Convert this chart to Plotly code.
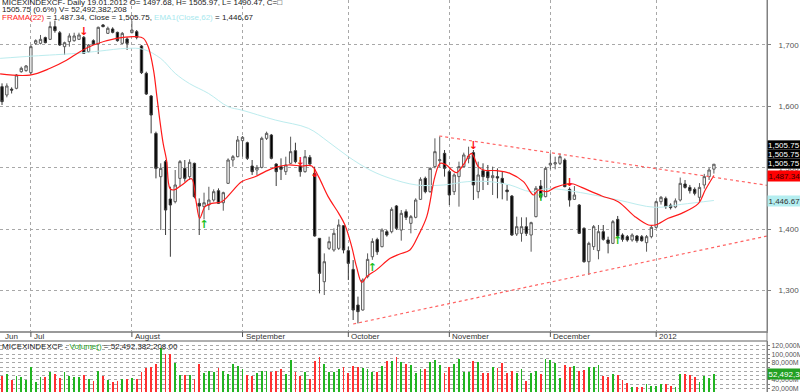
import plotly.graph_objects as go

# ---------------- data ----------------
month_labels = ["Jul", "August", "September", "October", "November", "December", "2012"]
month_idx = [6, 27, 50, 72, 93, 114, 136]

opens = [1632.1, 1618.5, 1628.0, 1629.4, 1656.5, 1658.2, 1654.9, 1702.7, 1702.7, 1712.0,
         1709.2, 1729.9, 1720.0, 1697.3, 1705.4, 1707.0, 1709.2, 1712.5, 1689.1, 1707.0,
         1701.6, 1732.6, 1719.0, 1726.1, 1720.6, 1702.7, 1709.8, 1720.1, 1721.7, 1698.4,
         1653.8, 1616.9, 1556.0, 1485.4, 1509.9, 1449.0, 1444.7, 1482.7, 1499.0, 1485.4,
         1507.2, 1442.0, 1436.6, 1439.3, 1447.4, 1462.6, 1443.0, 1474.6, 1512.6, 1518.0,
         1544.1, 1540.8, 1502.8, 1496.3, 1500.6, 1547.9, 1553.3, 1506.1, 1501.7, 1493.6,
         1507.2, 1527.8, 1502.8, 1493.6, 1517.0, 1490.9, 1385.0, 1314.3, 1368.7, 1366.0,
         1368.7, 1405.6, 1364.9, 1334.4, 1276.3, 1268.2, 1322.5, 1355.0, 1383.0, 1371.4,
         1395.8, 1395.8, 1437.7, 1398.5, 1428.4, 1409.4, 1419.2, 1448.5, 1482.7, 1461.0,
         1501.8, 1511.5, 1523.5, 1493.6, 1461.0, 1485.5, 1501.8, 1515.3, 1524.6, 1461.0,
         1495.2, 1493.6, 1483.8, 1485.5, 1482.7, 1463.7, 1453.9, 1392.0, 1393.1, 1404.0,
         1390.4, 1420.3, 1470.2, 1452.9, 1504.5, 1506.1, 1507.2, 1512.6, 1464.8, 1448.5,
         1439.3, 1401.3, 1346.9, 1371.4, 1364.9, 1395.8, 1382.3, 1376.8, 1415.9, 1390.4,
         1387.7, 1382.3, 1388.8, 1387.7, 1377.9, 1387.7, 1402.9, 1444.7, 1450.0, 1439.0,
         1436.0, 1447.4, 1473.5, 1468.0, 1464.8, 1451.8, 1471.9, 1485.5, 1497.68]
highs = [1637.5, 1637.5, 1631.0, 1652.7, 1664.7, 1667.4, 1700.0, 1709.2, 1716.3, 1713.6,
         1738.0, 1739.7, 1722.8, 1705.4, 1719.0, 1720.0, 1720.0, 1714.7, 1701.6, 1709.2,
         1729.9, 1734.2, 1729.9, 1728.8, 1721.7, 1721.2, 1712.5, 1739.7, 1724.4, 1700.0,
         1656.5, 1618.5, 1558.8, 1507.2, 1512.6, 1469.1, 1496.3, 1512.6, 1512.6, 1513.7,
         1508.3, 1450.1, 1459.4, 1469.0, 1464.8, 1466.4, 1461.0, 1515.3, 1520.8, 1551.7,
         1551.7, 1542.5, 1512.6, 1504.5, 1550.6, 1558.8, 1555.0, 1507.2, 1515.3, 1518.0,
         1550.6, 1540.8, 1512.6, 1528.9, 1520.8, 1501.7, 1385.0, 1360.5, 1387.7, 1401.2,
         1415.9, 1406.7, 1371.4, 1349.6, 1290.0, 1319.8, 1360.5, 1385.0, 1386.0, 1401.3,
         1398.5, 1435.5, 1439.3, 1431.1, 1432.2, 1423.0, 1450.2, 1484.4, 1485.5, 1500.7,
         1547.9, 1551.0, 1528.9, 1496.3, 1490.9, 1509.9, 1524.6, 1534.3, 1528.9, 1509.9,
         1507.2, 1504.5, 1501.8, 1499.0, 1493.6, 1471.9, 1455.6, 1420.3, 1419.2, 1419.2,
         1412.1, 1470.2, 1480.0, 1501.8, 1523.5, 1518.0, 1523.5, 1515.3, 1468.1, 1470.2,
         1440.9, 1402.9, 1379.5, 1406.7, 1406.7, 1406.7, 1387.7, 1414.8, 1421.4, 1393.1,
         1390.4, 1393.1, 1390.4, 1390.4, 1390.4, 1406.7, 1446.3, 1454.0, 1453.0, 1442.0,
         1450.0, 1484.0, 1480.0, 1472.0, 1468.0, 1475.0, 1490.0, 1500.0, 1505.97]
lows = [1602.2, 1614.7, 1621.0, 1627.8, 1654.9, 1656.5, 1652.7, 1700.0, 1701.0, 1702.7,
        1708.1, 1720.0, 1698.4, 1683.7, 1697.3, 1705.4, 1708.1, 1685.3, 1687.5, 1700.0,
        1685.3, 1728.8, 1717.9, 1719.0, 1705.4, 1701.6, 1691.9, 1719.0, 1709.2, 1652.7,
        1618.5, 1556.0, 1482.7, 1398.5, 1390.4, 1355.0, 1441.9, 1469.2, 1477.3, 1480.0,
        1450.1, 1390.4, 1415.9, 1431.0, 1444.7, 1440.9, 1430.0, 1473.5, 1501.7, 1517.0,
        1518.0, 1512.6, 1488.2, 1488.2, 1499.0, 1545.2, 1513.7, 1470.2, 1480.0, 1488.2,
        1506.1, 1507.2, 1485.4, 1492.0, 1502.8, 1387.7, 1295.3, 1292.6, 1366.0, 1363.2,
        1366.0, 1360.5, 1317.0, 1251.9, 1246.4, 1267.1, 1319.8, 1350.0, 1358.0, 1370.3,
        1387.7, 1393.1, 1398.5, 1381.2, 1414.8, 1393.1, 1417.6, 1447.4, 1458.3, 1459.4,
        1499.0, 1501.0, 1485.5, 1439.3, 1455.6, 1436.6, 1500.7, 1507.2, 1447.5, 1450.2,
        1463.7, 1471.9, 1455.6, 1450.2, 1448.5, 1446.3, 1388.8, 1388.8, 1379.5, 1388.8,
        1363.2, 1419.2, 1448.0, 1451.8, 1497.4, 1497.4, 1504.5, 1468.1, 1436.6, 1447.4,
        1392.0, 1345.3, 1325.2, 1366.0, 1350.8, 1381.2, 1360.5, 1375.7, 1385.0, 1379.5,
        1379.5, 1379.5, 1377.9, 1379.5, 1363.2, 1385.0, 1401.3, 1440.0, 1433.0, 1432.0,
        1434.0, 1445.0, 1466.0, 1458.0, 1455.0, 1445.0, 1466.0, 1480.0, 1490.47]
closes = [1607.7, 1633.2, 1626.5, 1651.1, 1662.0, 1665.8, 1697.3, 1707.1, 1709.2, 1703.8,
          1729.9, 1723.4, 1700.0, 1703.8, 1714.7, 1714.7, 1716.3, 1686.4, 1700.0, 1701.6,
          1728.8, 1729.9, 1727.2, 1720.6, 1707.0, 1719.0, 1702.7, 1724.4, 1712.5, 1654.9,
          1620.1, 1585.9, 1499.0, 1499.0, 1431.1, 1439.3, 1471.9, 1509.9, 1482.7, 1508.8,
          1452.9, 1437.6, 1443.0, 1447.4, 1461.0, 1442.0, 1459.4, 1512.6, 1518.0, 1545.2,
          1549.6, 1515.3, 1493.6, 1500.6, 1547.9, 1556.0, 1515.3, 1493.6, 1497.4, 1504.5,
          1526.2, 1509.9, 1493.6, 1518.0, 1506.1, 1388.8, 1327.9, 1346.9, 1379.5, 1393.1,
          1406.7, 1366.0, 1344.2, 1268.2, 1265.5, 1317.0, 1350.7, 1380.0, 1363.0, 1398.5,
          1390.4, 1432.2, 1401.3, 1425.7, 1419.2, 1420.3, 1447.4, 1481.1, 1461.0, 1499.0,
          1526.2, 1513.0, 1499.0, 1455.6, 1488.2, 1501.8, 1520.8, 1519.1, 1471.9, 1488.2,
          1485.5, 1483.8, 1487.1, 1483.3, 1474.6, 1461.0, 1390.4, 1404.0, 1404.0, 1393.1,
          1410.5, 1466.5, 1451.8, 1499.0, 1507.2, 1508.3, 1518.0, 1469.2, 1447.4, 1455.6,
          1393.1, 1346.9, 1376.8, 1404.0, 1395.8, 1383.3, 1376.8, 1412.1, 1388.8, 1383.3,
          1382.3, 1390.4, 1381.2, 1381.2, 1387.7, 1402.9, 1444.7, 1451.8, 1436.6, 1435.0,
          1446.0, 1474.6, 1468.0, 1462.6, 1458.3, 1468.0, 1485.5, 1496.3, 1505.75]

# volume, millions
volumes = [48800, 52700, 39500, 49600, 45700, 39500, 69000, 34000, 45700, 47300,
           57400, 52700, 43400, 57400, 48800, 45700, 45700, 51200, 41000, 37000,
           61400, 49600, 39500, 35600, 37000, 41000, 41800, 43400, 41000, 57400,
           66800, 70700, 77000, 115300, 99700, 99700, 78600, 51200, 51200, 51200,
           41000, 77000, 56700, 61400, 59000, 66800, 61400, 52700, 77000, 72300,
           64500, 51200, 49600, 56700, 60600, 61400, 59000, 60600, 64500, 53500,
           86400, 59000, 49600, 59000, 41800, 84800, 94200, 77000, 59000, 59000,
           65300, 70700, 55100, 72300, 70700, 66800, 65300, 59000, 57400, 72300,
           84800, 84000, 94200, 82500, 76200, 74600, 55100, 65300, 65300, 82500,
           86400, 74600, 56700, 70700, 77000, 88000, 59000, 57400, 84000, 82500,
           56700, 56700, 70700, 66800, 78600, 55100, 61400, 55100, 64500, 37900,
           55100, 61400, 52700, 88700, 86400, 78600, 43400, 74600, 70700, 72300,
           60600, 62900, 70700, 70700, 74600, 48800, 47300, 53500, 51200, 39500,
           33200, 22200, 22200, 23800, 30000, 26200, 26200, 29300, 29300, 26200,
           23800, 52700, 52700, 51200, 47300, 34000, 48800, 43400, 52492]

frama_x = [-0.4, 5.8, 10, 13.4, 16.2, 19, 23.8, 28, 29.4, 30.4, 31.5, 32.2, 32.8, 33.5,
           34.2, 34.9, 35.6, 37.4, 39.4, 40.3, 41.1, 42.2, 43.6, 45.7, 47.8, 49.8, 52.6,
           54.7, 56.8, 59.5, 62.3, 64.4, 65.8, 67.8, 70, 71.3, 72.7, 73.7, 74.8, 75.8,
           77.9, 80.7, 82.7, 84.8, 86.6, 88.3, 90, 91.1, 92.4, 93.5, 94.5, 95.9, 97.6,
           99, 100.1, 102.9, 105.6, 108.4, 110.5, 111.5, 113.2, 115, 117.4, 118.8, 120.5,
           124.7, 128.1, 131.6, 134.4, 135.8, 138.5, 141.3, 144.8, 146.2, 148]
frama_y = [1653, 1651, 1662, 1675, 1689, 1700, 1710.8, 1713.5, 1710.8, 1697.2, 1659.2,
           1615.8, 1577.8, 1539.7, 1512.6, 1466.4, 1463.7, 1472, 1482, 1447.4, 1417.6,
           1436.6, 1442, 1444.7, 1461, 1477.3, 1485.4, 1493.6, 1500.6, 1504.5, 1502.8,
           1502.8, 1485.5, 1452.9, 1425.7, 1406.7, 1371.4, 1338.8, 1313, 1322.5, 1334,
           1352.4, 1359.4, 1366, 1390.4, 1420.3, 1485.5, 1507.2, 1504.5, 1496.3, 1492,
           1504.5, 1523.5, 1501.8, 1496.3, 1495.2, 1490.9, 1477.3, 1455.6, 1463.7, 1461,
           1468, 1473.5, 1473.5, 1468, 1454, 1444.7, 1420.3, 1406.7, 1406.7, 1417.6,
           1425.7, 1442, 1463.7, 1487.34]

ema_x = [-0.4, 6.5, 15.5, 20.4, 25.9, 29.4, 33, 36, 39, 42.9, 47, 49.8, 56.8, 63.7,
         67.8, 72, 76.5, 80.7, 86.2, 91.8, 96.7, 101.4, 105.6, 109.9, 113.6, 121.2,
         128.1, 135.8, 141.3, 148]
ema_y = [1678.2, 1682, 1686.4, 1690.2, 1694.5, 1692.9, 1678, 1653.8, 1637, 1621.2,
         1599.5, 1594, 1577.8, 1564.2, 1542.5, 1518, 1496.3, 1482.7, 1471.9, 1471.9,
         1477.3, 1477.3, 1471.9, 1461, 1466, 1458.3, 1447.4, 1435.5, 1440.4, 1446.67]

upper_trend_x = [90.9, 159.04]
upper_trend_y = [1551.7, 1471.4]
lower_trend_x = [73.0, 159.04]
lower_trend_y = [1245.4, 1388.7]

sell_idx = [17, 62, 65, 98, 118]
sell_y = [1721, 1509, 1490, 1535, 1474]
buy_idx = [42, 77, 112, 128]
buy_y = [1407, 1337, 1450, 1381]

price_ticks = [1300, 1400, 1500, 1600, 1700]
vol_ticks = [20000, 30000, 40000, 50000, 60000, 70000, 80000, 90000, 100000, 110000, 120000]

last_close = 1505.75
last_frama = 1487.34
last_ema = 1446.67
last_volume = "52,492,382,208"

# ---------------- figure ----------------
H = 392.0
FONT = "Liberation Sans, Arial, sans-serif"
idx = list(range(len(opens)))


def py(px):
    return 1 - px / H


fig = go.Figure()

fig.add_trace(go.Candlestick(
    x=idx, open=opens, high=highs, low=lows, close=closes,
    increasing=dict(fillcolor="white", line=dict(color="#5a5a5a", width=1)),
    decreasing=dict(fillcolor="black", line=dict(color="#3a3a3a", width=1)),
    whiskerwidth=0, showlegend=False, hoverinfo="skip", xaxis="x", yaxis="y"))

fig.add_trace(go.Scatter(x=ema_x, y=ema_y, mode="lines", line=dict(color="#bcecee", width=1, shape="spline"),
                         showlegend=False, hoverinfo="skip"))
fig.add_trace(go.Scatter(x=frama_x, y=frama_y, mode="lines", line=dict(color="#ff1a1a", width=1.2, shape="spline"),
                         showlegend=False, hoverinfo="skip"))
for tx, ty in ((upper_trend_x, upper_trend_y), (lower_trend_x, lower_trend_y)):
    fig.add_trace(go.Scatter(x=tx, y=ty, mode="lines", line=dict(color="#ff6464", width=1.2, dash="dot"),
                             showlegend=False, hoverinfo="skip"))

fig.add_trace(go.Scatter(x=sell_idx, y=sell_y, mode="text", text=["<b>↓</b>"] * len(sell_idx),
                         textfont=dict(color="#ff1010", size=11, family="DejaVu Sans"),
                         showlegend=False, hoverinfo="skip"))
fig.add_trace(go.Scatter(x=buy_idx, y=buy_y, mode="text", text=["<b>↑</b>"] * len(buy_idx),
                         textfont=dict(color="#1ec01e", size=11, family="DejaVu Sans"),
                         showlegend=False, hoverinfo="skip"))

vol_colors = ["#22b422" if c >= o else "#ff3030" for o, c in zip(opens, closes)]
fig.add_trace(go.Bar(x=idx, y=volumes, width=0.38, marker=dict(color=vol_colors, line=dict(width=0)),
                     showlegend=False, hoverinfo="skip", xaxis="x2", yaxis="y2"))

grid = "#a8a8a8"
fig.update_layout(
    template="none",
    width=800, height=392,
    margin=dict(l=0, r=33, t=0, b=0, pad=0),
    paper_bgcolor="white", plot_bgcolor="white",
    font=dict(family=FONT, size=8, color="#333"),
    bargap=0,
    xaxis=dict(domain=[0, 1], range=[-0.42, 159.04], anchor="y", automargin=False,
               tickvals=month_idx, showticklabels=False, ticks="",
               showgrid=True, gridcolor=grid, griddash="dot", gridwidth=1,
               zeroline=False, showline=True, linecolor="#9a9a9a", linewidth=2,
               rangeslider=dict(visible=False)),
    yaxis=dict(domain=[py(331), 1], range=[1234.0, 1773.3], side="right", automargin=False,
               tickvals=price_ticks, ticktext=[f"{v:,}" for v in price_ticks],
               showgrid=True, gridcolor=grid, griddash="dot", gridwidth=1,
               zeroline=False, showline=True, linecolor="#808080", linewidth=1,
               ticks="outside", ticklen=3, tickcolor="#808080",
               tickfont=dict(size=8, color="#555"), ticklabelstandoff=6),
    xaxis2=dict(domain=[0, 1], matches="x", anchor="y2", showticklabels=False, automargin=False,
                showgrid=False, zeroline=False, ticks="", showline=False),
    yaxis2=dict(domain=[0, py(341)], range=[11315, 131033], side="right", automargin=False,
                tickvals=vol_ticks,
                ticktext=[f"{v:,}M" if v % 20000 == 0 else "" for v in vol_ticks],
                showgrid=True, gridcolor=grid, griddash="dot", gridwidth=1,
                zeroline=False, showline=True, linecolor="#808080", linewidth=1,
                ticks="outside", ticklen=2, tickcolor="#808080",
                tickfont=dict(size=7, color="#555"), ticklabelstandoff=0),
)

shapes = []
# separator lines
shapes.append(dict(type="line", xref="paper", yref="paper", x0=0, x1=1, y0=py(341), y1=py(341),
                   line=dict(color="#606060", width=1)))
shapes.append(dict(type="line", xref="paper", yref="paper", x0=1, x1=1, y0=0, y1=1,
                   line=dict(color="#808080", width=1)))
for m in month_idx:
    shapes.append(dict(type="line", xref="x", yref="paper", x0=m, x1=m, y0=py(332), y1=py(337),
                       line=dict(color="#555", width=1)))
fig.update_layout(shapes=shapes)

ann = []
ann.append(dict(xref="paper", yref="paper", x=0.004, y=py(336.5), text="Jun", showarrow=False,
                xanchor="left", yanchor="middle", font=dict(size=8, color="#333")))
for lab, m in zip(month_labels, month_idx):
    ann.append(dict(xref="x", yref="paper", x=m, y=py(336.5), text=lab, showarrow=False,
                    xanchor="left", yanchor="middle", xshift=1, font=dict(size=8, color="#333")))

hdr = dict(xref="paper", yref="paper", showarrow=False, xanchor="left", yanchor="middle",
           font=dict(size=8, color="#222"))
ann.append(dict(hdr, x=0, xshift=0, y=py(2.5),
                text="MICEXINDEXCF- Daily 19.01.2012 O= 1497.68, H= 1505.97, L= 1490.47, C=□"))
ann.append(dict(hdr, x=0, xshift=0, y=py(9.5), text="1505.75 (0.6%) V= 52,492,382,208"))
ann.append(dict(hdr, x=0, xshift=0, y=py(17),
                text='<span style="color:#ff2020">FRAMA(22)</span> = 1,487.34, Close = 1,505.75, '
                     '<span style="color:#a8e8ee">EMA1(Close,62)</span> = 1,446.67'))
ann.append(dict(hdr, x=0, xshift=0, y=py(346.5),
                text='MICEXINDEXCF - <span style="color:#22a022">Volume()</span> = 52,492,382,208.00'))

box = dict(xref="paper", yref="paper", showarrow=False, xanchor="left", yanchor="middle",
           x=1, xshift=0, borderpad=0.5, font=dict(size=8))
for ypx in (145.7, 154.8, 163.9):
    ann.append(dict(box, y=py(ypx), text=f"{last_close:,.2f}", bgcolor="black",
                    bordercolor="#777", borderwidth=0.5, font=dict(size=8, color="white")))
ann.append(dict(box, y=py(175.7), text=f"{last_frama:,.2f}", bgcolor="#ff0000",
                font=dict(size=8, color="#3a0000")))
ann.append(dict(box, y=py(201), text=f"{last_ema:,.2f}", bgcolor="#b4eef0",
                font=dict(size=8, color="#333")))
ann.append(dict(box, y=py(374), text=last_volume, bgcolor="#22a022",
                font=dict(size=8, color="white")))
fig.update_layout(annotations=ann)

fig.write_html("out.html",
               config={"displayModeBar": False, "staticPlot": True},
               post_script="document.body.style.margin='0';document.body.style.padding='0';"
                           "document.body.style.overflow='hidden';")
